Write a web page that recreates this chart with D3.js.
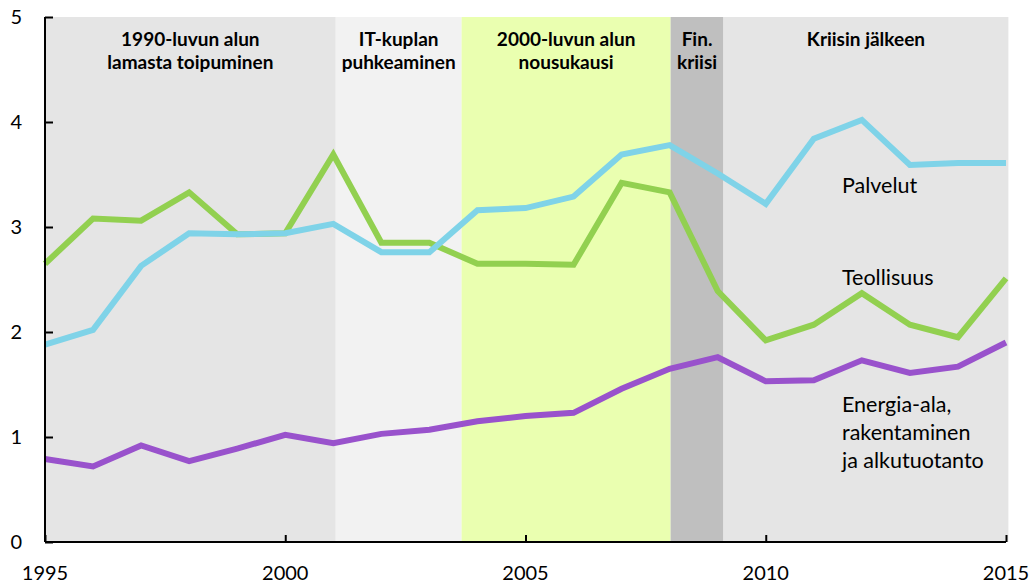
<!DOCTYPE html>
<html>
<head>
<meta charset="utf-8">
<script src="https://cdn.jsdelivr.net/npm/d3@7"></script>
<style>
  body { margin: 0; background: #fff; }
  svg { display: block; }
</style>
</head>
<body>
<div id="chart"></div>
<script>
const years = d3.range(1995, 2016);

const palvelut = [1.88, 2.02, 2.63, 2.94, 2.93, 2.94, 3.03, 2.76, 2.76, 3.16, 3.18,
  3.29, 3.69, 3.78, 3.51, 3.22, 3.84, 4.02, 3.59, 3.61, 3.61];
const teollisuus = [2.65, 3.08, 3.06, 3.33, 2.93, 2.94, 3.69, 2.85, 2.85, 2.65, 2.65,
  2.64, 3.42, 3.33, 2.39, 1.92, 2.07, 2.37, 2.07, 1.95, 2.51];
const energia = [0.79, 0.72, 0.92, 0.77, 0.89, 1.02, 0.94, 1.03, 1.07, 1.15, 1.20,
  1.23, 1.46, 1.65, 1.76, 1.53, 1.54, 1.73, 1.61, 1.67, 1.90];

// periods (start, end in fractional years)
const periodStart = [1995, 2001.05, 2003.67, 2008.02, 2009.12];
const periodEnd = [2001.05, 2003.67, 2008.02, 2009.12, 2015.05];
const periodLabels = [
  ['1990-luvun alun', 'lamasta toipuminen'],
  ['IT-kuplan', 'puhkeaminen'],
  ['2000-luvun alun', 'nousukausi'],
  ['Fin.', 'kriisi'],
  ['Kriisin jälkeen']
];
const periodColors = ['#e5e5e5', '#f2f2f2', '#eaffb0', '#bfbfbf', '#e5e5e5'];

const yTicks = [0, 1, 2, 3, 4, 5];
const xTicks = [1995, 2000, 2005, 2010, 2015];

const width = 1032;
const height = 584;
const font = 'Lato, "Open Sans", sans-serif';

const x = d3.scaleLinear().domain([1995, 2015]).range([45, 1006]);
const y = d3.scaleLinear().domain([0, 5]).range([542, 17]);

const svg = d3.select('#chart').append('svg')
  .attr('width', width)
  .attr('height', height);

// background bands
svg.selectAll('.band')
  .data(periodStart)
  .enter().append('rect')
  .attr('class', 'band')
  .attr('x', (d) => x(d))
  .attr('y', y(5))
  .attr('width', (d, i) => x(periodEnd[i]) - x(d))
  .attr('height', y(0) - y(5))
  .style('fill', (d, i) => periodColors[i]);

// band labels
const bandMid = (i) => (x(periodStart[i]) + x(periodEnd[i])) / 2;
const bandText = svg.selectAll('.bandText')
  .data(periodLabels)
  .enter().append('text')
  .attr('class', 'bandText')
  .attr('y', 46)
  .attr('text-anchor', 'middle')
  .attr('font-family', font)
  .attr('font-weight', 'bold')
  .attr('font-size', '19px')
  .attr('fill', '#000');
bandText.selectAll('tspan')
  .data((d, i) => d.map((t) => ({ t, i })))
  .enter().append('tspan')
  .attr('x', (d) => bandMid(d.i))
  .attr('dy', (d, j) => (j === 0 ? 0 : 23))
  .text((d) => d.t);

// lines
const line = d3.line()
  .x((d, i) => x(years[i]))
  .y((d) => y(d));

const series = [
  { values: energia, color: '#9952cc' },
  { values: teollisuus, color: '#92d050' },
  { values: palvelut, color: '#7fd3e8' }
];

svg.selectAll('.line')
  .data(series)
  .enter().append('path')
  .attr('class', 'line')
  .attr('d', (d) => line(d.values))
  .style('fill', 'none')
  .style('stroke', (d) => d.color)
  .style('stroke-width', 6);

// series labels
const labels = [
  { lines: ['Palvelut'], v: 3.32 },
  { lines: ['Teollisuus'], v: 2.45 },
  { lines: ['Energia-ala,', 'rakentaminen', 'ja alkutuotanto'], v: 1.24 }
];
const lab = svg.selectAll('.lab')
  .data(labels)
  .enter().append('text')
  .attr('class', 'lab')
  .attr('y', (d) => y(d.v))
  .attr('font-family', font)
  .attr('font-size', '21.5px')
  .attr('fill', '#000');
lab.selectAll('tspan')
  .data((d) => d.lines)
  .enter().append('tspan')
  .attr('x', 842)
  .attr('dy', (d, j) => (j === 0 ? 0 : 28))
  .text((d) => d);

// y axis
svg.append('g')
  .attr('transform', `translate(${x(1995)},0)`)
  .call(d3.axisRight(y).tickValues(yTicks).tickSize(8).tickFormat(''))
  .call((g) => g.select('.domain').attr('d', `M0,${y(5)}V${y(0)}`))
  .call((g) => g.selectAll('line, path').attr('stroke', '#000').attr('stroke-width', 2));

svg.selectAll('.ylab')
  .data(yTicks)
  .enter().append('text')
  .attr('class', 'ylab')
  .attr('x', 22)
  .attr('y', (d) => y(d))
  .attr('dy', '0.35em')
  .attr('text-anchor', 'end')
  .attr('font-family', font)
  .attr('font-size', '20px')
  .text((d) => d);

// x axis
svg.append('g')
  .attr('transform', `translate(0,${y(0)})`)
  .call(d3.axisTop(x).tickValues(xTicks).tickSize(7).tickFormat(''))
  .call((g) => g.select('.domain').attr('d', `M${x(1995)},0H${x(2015)}`))
  .call((g) => g.selectAll('line, path').attr('stroke', '#000').attr('stroke-width', 2));

svg.selectAll('.xlab')
  .data(xTicks)
  .enter().append('text')
  .attr('class', 'xlab')
  .attr('x', (d) => x(d))
  .attr('y', 580)
  .attr('text-anchor', 'middle')
  .attr('font-family', font)
  .attr('font-size', '20px')
  .text((d) => d);
</script>
</body>
</html>
